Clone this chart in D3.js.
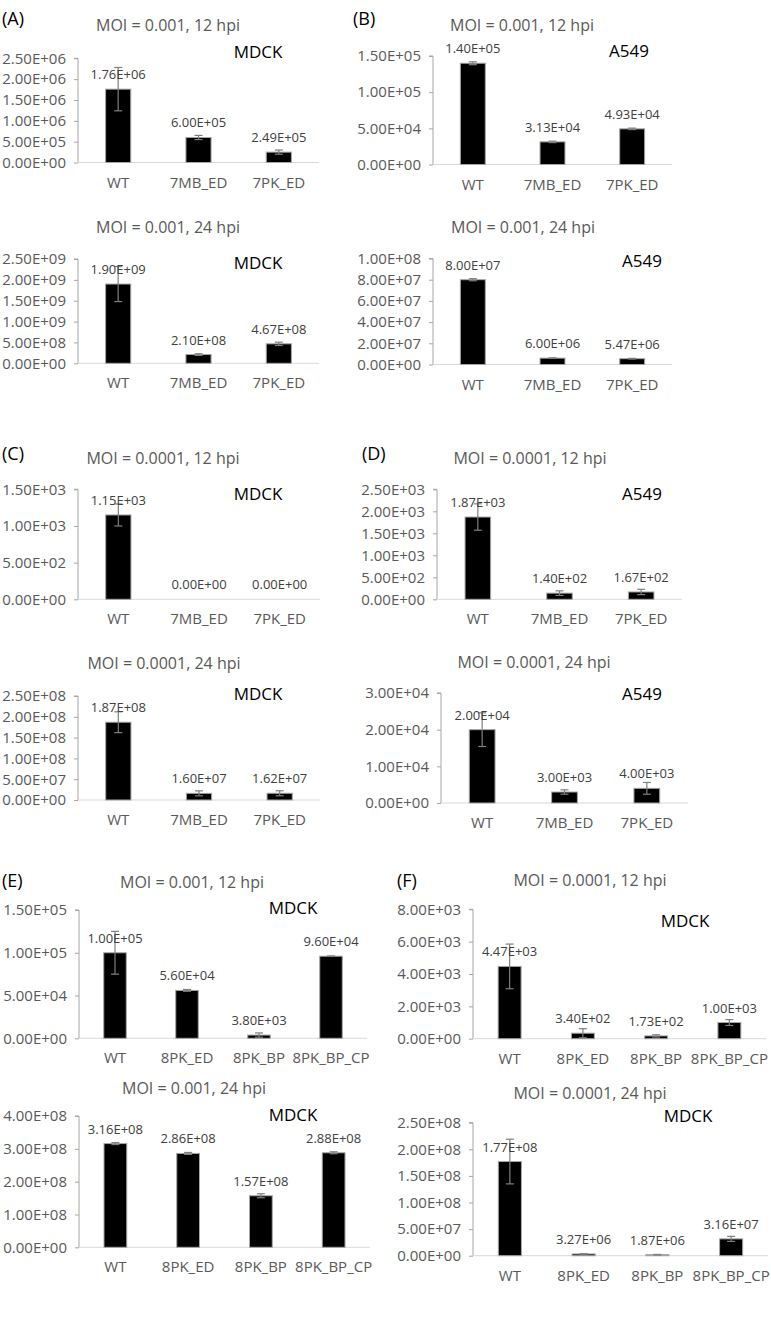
<!DOCTYPE html>
<html>
<head>
<meta charset="utf-8">
<script src="https://cdn.jsdelivr.net/npm/d3@7"></script>
<style>
  html, body { margin: 0; padding: 0; background: #fff; }
  svg { display: block; font-family: "Open Sans", sans-serif; }
</style>
</head>
<body>
<svg id="chart" width="771" height="1320"></svg>
<script>
// ---------- DATA ----------
const catsSeven = ["WT", "7MB_ED", "7PK_ED"];
const catsEight = ["WT", "8PK_ED", "8PK_BP", "8PK_BP_CP"];

const panelLetters = ["(A)", "(B)", "(C)", "(D)", "(E)", "(F)"];

const titles = [
  "MOI = 0.001, 12 hpi", "MOI = 0.001, 24 hpi",
  "MOI = 0.001, 12 hpi", "MOI = 0.001, 24 hpi",
  "MOI = 0.0001, 12 hpi", "MOI = 0.0001, 24 hpi",
  "MOI = 0.0001, 12 hpi", "MOI = 0.0001, 24 hpi",
  "MOI = 0.001, 12 hpi", "MOI = 0.001, 24 hpi",
  "MOI = 0.0001, 12 hpi", "MOI = 0.0001, 24 hpi"
];
const cellLines = ["MDCK", "MDCK", "A549", "A549", "MDCK", "MDCK", "A549", "A549", "MDCK", "MDCK", "MDCK", "MDCK"];

// Panel A
const valsA12 = [1.76e6, 6.00e5, 2.49e5];
const errA12  = [5.2e5, 5.0e4, 5.0e4];
const ticksA12 = [0, 5e5, 1e6, 1.5e6, 2e6, 2.5e6];
const valsA24 = [1.90e9, 2.10e8, 4.67e8];
const errA24  = [4.2e8, 2.0e7, 4.0e7];
const ticksA24 = [0, 5e8, 1e9, 1.5e9, 2e9, 2.5e9];
// Panel B
const valsB12 = [1.40e5, 3.13e4, 4.93e4];
const errB12  = [2.0e3, 1.0e3, 1.0e3];
const ticksB12 = [0, 5e4, 1e5, 1.5e5];
const valsB24 = [8.00e7, 6.00e6, 5.47e6];
const errB24  = [1.0e6, 3.0e5, 3.0e5];
const ticksB24 = [0, 2e7, 4e7, 6e7, 8e7, 1e8];
// Panel C
const valsC12 = [1.15e3, 0, 0];
const errC12  = [1.5e2, 0, 0];
const ticksC12 = [0, 5e2, 1e3, 1.5e3];
const valsC24 = [1.87e8, 1.60e7, 1.62e7];
const errC24  = [2.5e7, 6.0e6, 6.0e6];
const ticksC24 = [0, 5e7, 1e8, 1.5e8, 2e8, 2.5e8];
// Panel D
const valsD12 = [1.87e3, 1.40e2, 1.67e2];
const errD12  = [3.0e2, 5.2e1, 6.0e1];
const ticksD12 = [0, 5e2, 1e3, 1.5e3, 2e3, 2.5e3];
const valsD24 = [2.00e4, 3.00e3, 4.00e3];
const errD24  = [4.6e3, 6.0e2, 1.6e3];
const ticksD24 = [0, 1e4, 2e4, 3e4];
// Panel E
const valsE12 = [1.00e5, 5.60e4, 3.80e3, 9.60e4];
const errE12  = [2.5e4, 1.0e3, 2.5e3, 3.0e2];
const ticksE12 = [0, 5e4, 1e5, 1.5e5];
const valsE24 = [3.16e8, 2.86e8, 1.57e8, 2.88e8];
const errE24  = [3.0e6, 3.0e6, 6.0e6, 3.0e6];
const ticksE24 = [0, 1e8, 2e8, 3e8, 4e8];
// Panel F
const valsF12 = [4.47e3, 3.40e2, 1.73e2, 1.00e3];
const errF12  = [1.38e3, 2.8e2, 7.0e1, 1.8e2];
const ticksF12 = [0, 2e3, 4e3, 6e3, 8e3];
const valsF24 = [1.77e8, 3.27e6, 1.87e6, 3.16e7];
const errF24  = [4.2e7, 5.0e5, 5.0e5, 4.7e6];
const ticksF24 = [0, 5e7, 1e8, 1.5e8, 2e8, 2.5e8];

// ---------- LAYOUT (code, not data) ----------
const panels = [
  {cats: catsSeven, vals: valsA12, errs: errA12, ticks: ticksA12, L: 78,  R: 319, y0: 162.5, yT: 58.3,  tx: 168, ty: 25,   cx: 258, cy: 51.5},
  {cats: catsSeven, vals: valsA24, errs: errA24, ticks: ticksA24, L: 78,  R: 319, y0: 363.3, yT: 259,   tx: 168, ty: 226.5, cx: 258, cy: 262},
  {cats: catsSeven, vals: valsB12, errs: errB12, ticks: ticksB12, L: 433, R: 672, y0: 164.5, yT: 56,    tx: 522, ty: 25,   cx: 629, cy: 50},
  {cats: catsSeven, vals: valsB24, errs: errB24, ticks: ticksB24, L: 433, R: 672, y0: 364.5, yT: 258.5, tx: 523, ty: 226.5, cx: 642, cy: 260},
  {cats: catsSeven, vals: valsC12, errs: errC12, ticks: ticksC12, L: 78,  R: 320, y0: 599.3, yT: 489.3, tx: 163, ty: 457.5, cx: 258, cy: 493},
  {cats: catsSeven, vals: valsC24, errs: errC24, ticks: ticksC24, L: 78,  R: 320, y0: 800,   yT: 696,   tx: 164, ty: 663,  cx: 258, cy: 693},
  {cats: catsSeven, vals: valsD12, errs: errD12, ticks: ticksD12, L: 437, R: 682, y0: 599.3, yT: 489.3, tx: 530, ty: 458,  cx: 642, cy: 493},
  {cats: catsSeven, vals: valsD24, errs: errD24, ticks: ticksD24, L: 441, R: 688, y0: 803,   yT: 693,   tx: 534, ty: 661.5, cx: 642, cy: 693},
  {cats: catsEight, vals: valsE12, errs: errE12, ticks: ticksE12, L: 79,  R: 367, y0: 1038.3, yT: 910,  tx: 192, ty: 881.5, cx: 293, cy: 907.5},
  {cats: catsEight, vals: valsE24, errs: errE24, ticks: ticksE24, L: 79,  R: 370, y0: 1247.3, yT: 1116, tx: 194, ty: 1087.5, cx: 293, cy: 1114},
  {cats: catsEight, vals: valsF12, errs: errF12, ticks: ticksF12, L: 473, R: 766, y0: 1038.7, yT: 909.3, tx: 590, ty: 880,  cx: 685, cy: 920},
  {cats: catsEight, vals: valsF24, errs: errF24, ticks: ticksF24, L: 473, R: 768, y0: 1255.7, yT: 1122.7, tx: 590, ty: 1093, cx: 688, cy: 1115}
];
const letterPos = [[2, 17.5], [353, 17.5], [2, 453], [362, 453], [2, 880], [397, 880]];

function fmtE(v) {
  const s = v.toExponential(2);
  const parts = s.split("e");
  const sign = parts[1][0];
  const digits = parts[1].slice(1).padStart(2, "0");
  return parts[0] + "E" + sign + digits;
}

const svg = d3.select("#chart");

panelLetters.forEach((t, i) => {
  svg.append("text")
    .attr("x", letterPos[i][0]).attr("y", letterPos[i][1])
    .attr("dominant-baseline", "central")
    .attr("font-size", 18).attr("fill", "#000")
    .text(t);
});

panels.forEach((p, i) => {
  const g = svg.append("g");
  const x = d3.scaleBand().domain(p.cats).range([p.L, p.R]).padding(0);
  const y = d3.scaleLinear().domain([0, d3.max(p.ticks)]).range([p.y0, p.yT]);
  const barW = x.step() * 0.313;

  // title
  g.append("text").attr("x", p.tx).attr("y", p.ty)
    .attr("text-anchor", "middle").attr("dominant-baseline", "central")
    .attr("font-size", 16).attr("fill", "#595959").text(titles[i]);
  // cell line label
  g.append("text").attr("x", p.cx).attr("y", p.cy)
    .attr("text-anchor", "middle").attr("dominant-baseline", "central")
    .attr("font-size", 17).attr("fill", "#000").text(cellLines[i]);

  // y axis
  const ya = g.append("g").attr("transform", `translate(${p.L},0)`)
    .call(d3.axisLeft(y).tickValues(p.ticks).tickFormat(fmtE).tickSize(4).tickPadding(8));
  ya.select(".domain").attr("stroke", "#a6a6a6").attr("d", `M-4,${p.yT}H0V${p.y0}`);
  ya.selectAll(".tick line").attr("stroke", "#a6a6a6");
  ya.selectAll(".tick text").attr("font-size", 15).attr("fill", "#595959")
    .attr("font-family", "Open Sans, sans-serif");

  // x axis baseline
  g.append("line").attr("x1", p.L).attr("x2", p.R).attr("y1", p.y0).attr("y2", p.y0)
    .attr("stroke", "#d9d9d9").attr("stroke-width", 1);

  // category labels
  g.selectAll("text.cat").data(p.cats).enter().append("text")
    .attr("class", "cat")
    .attr("x", d => x(d) + x.bandwidth() / 2)
    .attr("y", p.y0 + 19)
    .attr("text-anchor", "middle").attr("dominant-baseline", "central")
    .attr("font-size", 15).attr("fill", "#595959").text(d => d);

  const rows = p.cats.map((c, j) => ({c: c, v: p.vals[j], e: p.errs[j]}));

  // bars
  g.selectAll("rect.bar").data(rows.filter(d => d.v > 0)).enter().append("rect")
    .attr("class", "bar")
    .attr("x", d => x(d.c) + x.bandwidth() / 2 - barW / 2)
    .attr("y", d => y(d.v))
    .attr("width", barW)
    .attr("height", d => y(0) - y(d.v))
    .attr("fill", "#000").attr("stroke", "#a6a6a6").attr("stroke-width", 1);

  // error bars
  const eb = g.selectAll("g.err").data(rows.filter(d => d.e > 0)).enter().append("g").attr("class", "err")
    .attr("stroke", "#7f7f7f").attr("stroke-width", 1.2);
  eb.append("line")
    .attr("x1", d => x(d.c) + x.bandwidth() / 2).attr("x2", d => x(d.c) + x.bandwidth() / 2)
    .attr("y1", d => y(d.v + d.e)).attr("y2", d => y(Math.max(0, d.v - d.e)));
  [1, -1].forEach(s => {
    eb.append("line")
      .attr("x1", d => x(d.c) + x.bandwidth() / 2 - 4).attr("x2", d => x(d.c) + x.bandwidth() / 2 + 4)
      .attr("y1", d => y(Math.max(0, d.v + s * d.e))).attr("y2", d => y(Math.max(0, d.v + s * d.e)));
  });

  // value labels
  g.selectAll("text.val").data(rows).enter().append("text")
    .attr("class", "val")
    .attr("x", d => x(d.c) + x.bandwidth() / 2)
    .attr("y", d => y(d.v) - 15)
    .attr("text-anchor", "middle").attr("dominant-baseline", "central")
    .attr("font-size", 13).attr("fill", "#404040").text(d => fmtE(d.v));
});
</script>
</body>
</html>
